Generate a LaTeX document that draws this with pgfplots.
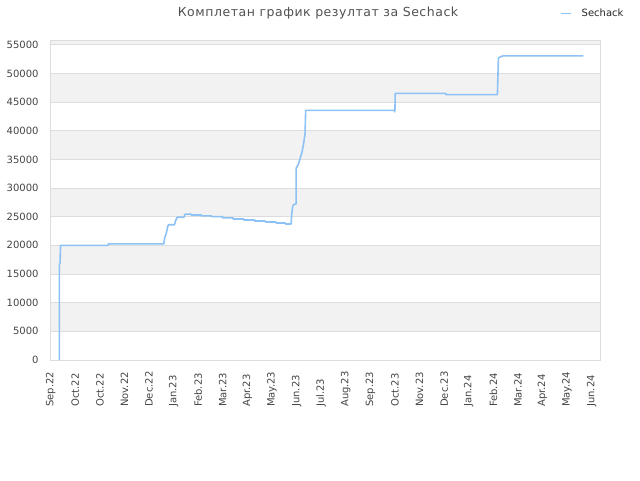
\documentclass[border=0pt]{standalone}
\usepackage{fontspec}
\setmainfont{DejaVu Sans}
\newfontfamily\titlefont[LetterSpace=4.3]{DejaVu Sans}
\usepackage{pgfplots}
\pgfplotsset{compat=1.18}
\definecolor{lineblue}{HTML}{8CC2F5}
\definecolor{bandgray}{HTML}{F2F2F2}
\definecolor{gridgray}{HTML}{DDDDDD}
\definecolor{labelgray}{HTML}{444444}
\definecolor{titlegray}{HTML}{505050}

\begin{document}
\begin{tikzpicture}[x=1pt,y=1pt]
\path (0,0) rectangle (640,480);
\begin{axis}[
    set layers,
    at={(50.7pt,120pt)}, anchor=south west,
    scale only axis, width=549.3pt, height=319.3pt,
    xmin=0, xmax=22.34, ymin=0, ymax=55700,
    xtick={0,...,22},
    xticklabels={Sep.22,Oct.22,Oct.22,Nov.22,Dec.22,Jan.23,Feb.23,Mar.23,Apr.23,May.23,Jun.23,Jul.23,Aug.23,Sep.23,Oct.23,Nov.23,Dec.23,Jan.24,Feb.24,Mar.24,Apr.24,May.24,Jun.24},
    ytick={0,5000,...,55000},
    scaled y ticks=false,
    /pgf/number format/1000 sep={},
    /pgf/number format/assume math mode=true,
    major tick length=0pt,
    ymajorgrids,
    grid style={gridgray, line width=0.8pt},
    axis line style={gridgray, line width=0.8pt},
    tick label style={font=\fontsize{10}{12}\selectfont, text=labelgray},
    xticklabel style={rotate=90, anchor=west, inner sep=0pt},
    xticklabel shift=47pt,
    yticklabel style={anchor=east, inner sep=0pt},
    yticklabel shift=12pt,
    title={Комплетан график резултат за Sechack},
    title style={at={(0.4866,1.058)}, anchor=base, yshift=0pt, inner sep=0pt,
        font=\titlefont\fontsize{12.5}{14}\selectfont, text=titlegray},
    legend style={at={(0.927,1.0846)}, anchor=west, draw=none, fill=none,
        inner sep=0pt, column sep=10pt,
        nodes={inner sep=0pt, font=\fontsize{10}{12}\selectfont, text=black!85}},
    legend image code/.code={\draw[#1] (0pt,0pt) -- (10pt,0pt);},
]
\begin{pgfonlayer}{axis background}
\fill[bandgray] (axis cs:0,5000) rectangle (axis cs:22.34,10000);
\fill[bandgray] (axis cs:0,15000) rectangle (axis cs:22.34,20000);
\fill[bandgray] (axis cs:0,25000) rectangle (axis cs:22.34,30000);
\fill[bandgray] (axis cs:0,35000) rectangle (axis cs:22.34,40000);
\fill[bandgray] (axis cs:0,45000) rectangle (axis cs:22.34,50000);
\fill[bandgray] (axis cs:0,55000) rectangle (axis cs:22.34,55700);
\end{pgfonlayer}

\addplot[lineblue, line width=1.6pt, line join=round] coordinates {
    (0.353,0) (0.353,16700) (0.38,16900) (0.40,20000)
    (2.344,20000) (2.344,20250) (4.602,20250)
    (4.63,21200) (4.70,22100) (4.764,23400) (4.805,23600)
    (5.037,23600) (5.077,24300) (5.146,24900) (5.414,24900)
    (5.471,25450) (5.715,25450) (5.715,25300) (6.121,25300)
    (6.121,25150) (6.539,25150) (6.539,25000) (6.986,25000)
    (6.986,24800) (7.421,24800) (7.421,24600) (7.851,24600)
    (7.851,24420) (8.298,24420) (8.298,24250) (8.733,24250)
    (8.733,24070) (9.167,24070) (9.167,23900) (9.545,23900)
    (9.545,23720) (9.777,23720) (9.801,25300) (9.842,26860)
    (9.911,27200) (9.98,27200) (9.98,33400) (10.085,34300)
    (10.223,36300) (10.288,37800) (10.345,39500) (10.37,43550)
    (13.985,43550) (13.985,43300) (14.0,43550) (14.013,46500)
    (16.072,46500) (16.072,46300) (18.168,46300) (18.209,52700)
    (18.30,52900) (18.388,53050) (21.661,53050)
};
\legend{Sechack}
\end{axis}
\end{tikzpicture}
\end{document}
